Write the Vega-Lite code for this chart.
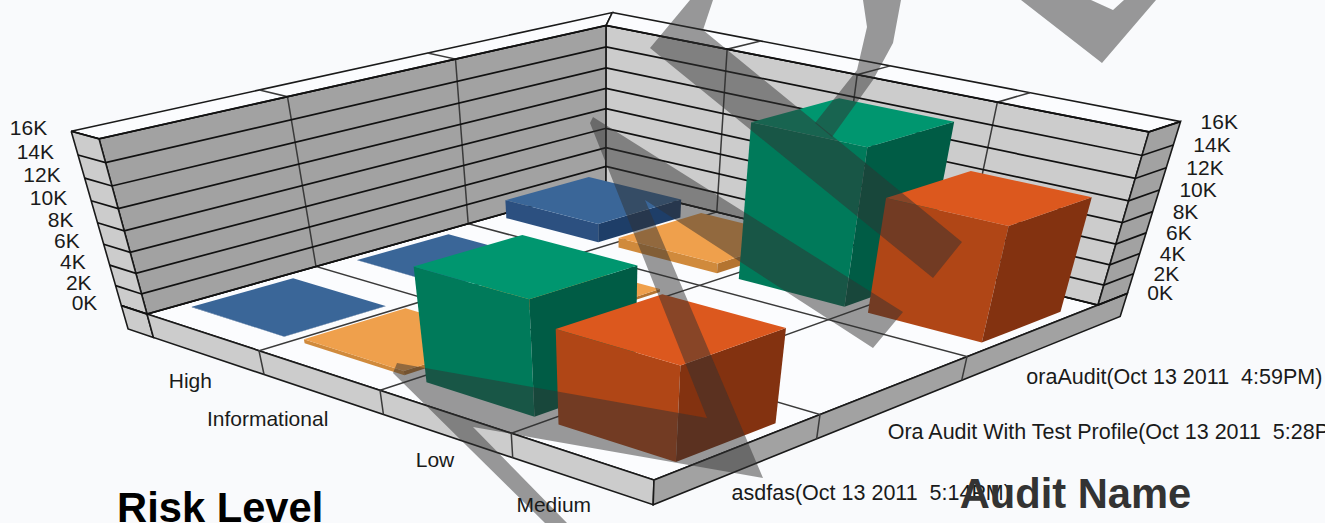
{"$schema":"https://vega.github.io/schema/vega-lite/v6.json","width":1325,"height":523,"padding":0,"autosize":{"type":"none"},"background":"#ffffff","view":{"fill":"#f9fafc","stroke":null},"config":{"text":{"font":"Liberation Sans"}},
"resolve":{"scale":{"fill":"independent"}},
"datasets":{
"bars":[
{"risk":"High","audit":"oraAudit(Oct 13 2011  4:59PM)","value":1900},
{"risk":"Informational","audit":"oraAudit(Oct 13 2011  4:59PM)","value":1000},
{"risk":"High","audit":"Ora Audit With Test Profile(Oct 13 2011  5:28PM)","value":30},
{"risk":"Low","audit":"oraAudit(Oct 13 2011  4:59PM)","value":14800},
{"risk":"Informational","audit":"Ora Audit With Test Profile(Oct 13 2011  5:28PM)","value":300},
{"risk":"High","audit":"asdfas(Oct 13 2011  5:14PM)","value":30},
{"risk":"Medium","audit":"oraAudit(Oct 13 2011  4:59PM)","value":10900},
{"risk":"Informational","audit":"asdfas(Oct 13 2011  5:14PM)","value":400},
{"risk":"Low","audit":"asdfas(Oct 13 2011  5:14PM)","value":10600},
{"risk":"Medium","audit":"asdfas(Oct 13 2011  5:14PM)","value":8700}
],
"box":[
{"poly":"floor","tone":"white","k":0,"u":0,"v":0,"z":0},{"poly":"floor","tone":"white","k":1,"u":1,"v":0,"z":0},{"poly":"floor","tone":"white","k":2,"u":1,"v":1,"z":0},{"poly":"floor","tone":"white","k":3,"u":0,"v":1,"z":0},{"poly":"floor","tone":"white","k":4,"u":0,"v":0,"z":0},
{"poly":"leftWall","tone":"dark","k":0,"u":0,"v":0,"z":0},{"poly":"leftWall","tone":"dark","k":1,"u":0,"v":1,"z":0},{"poly":"leftWall","tone":"dark","k":2,"u":0,"v":1,"z":1},{"poly":"leftWall","tone":"dark","k":3,"u":0,"v":0,"z":1},{"poly":"leftWall","tone":"dark","k":4,"u":0,"v":0,"z":0},
{"poly":"rightWall","tone":"light","k":0,"u":0,"v":1,"z":0},{"poly":"rightWall","tone":"light","k":1,"u":1,"v":1,"z":0},{"poly":"rightWall","tone":"light","k":2,"u":1,"v":1,"z":1},{"poly":"rightWall","tone":"light","k":3,"u":0,"v":1,"z":1},{"poly":"rightWall","tone":"light","k":4,"u":0,"v":1,"z":0},
{"poly":"topLeft","tone":"white","k":0,"u":-0.06,"v":0,"z":1},{"poly":"topLeft","tone":"white","k":1,"u":-0.06,"v":1.08,"z":1},{"poly":"topLeft","tone":"white","k":2,"u":0,"v":1,"z":1},{"poly":"topLeft","tone":"white","k":3,"u":0,"v":0,"z":1},{"poly":"topLeft","tone":"white","k":4,"u":-0.06,"v":0,"z":1},
{"poly":"topRight","tone":"white","k":0,"u":-0.06,"v":1.08,"z":1},{"poly":"topRight","tone":"white","k":1,"u":1,"v":1.08,"z":1},{"poly":"topRight","tone":"white","k":2,"u":1,"v":1,"z":1},{"poly":"topRight","tone":"white","k":3,"u":0,"v":1,"z":1},{"poly":"topRight","tone":"white","k":4,"u":-0.06,"v":1.08,"z":1},
{"poly":"leftEnd","tone":"light","k":0,"u":-0.06,"v":0,"z":1},{"poly":"leftEnd","tone":"light","k":1,"u":0,"v":0,"z":1},{"poly":"leftEnd","tone":"light","k":2,"u":0,"v":0,"z":0},{"poly":"leftEnd","tone":"light","k":3,"u":-0.06,"v":0,"z":0},{"poly":"leftEnd","tone":"light","k":4,"u":-0.06,"v":0,"z":1},
{"poly":"leftFoot","tone":"light","k":0,"u":-0.06,"v":0,"z":0},{"poly":"leftFoot","tone":"light","k":1,"u":0,"v":0,"z":0},{"poly":"leftFoot","tone":"light","k":2,"u":0,"v":0,"z":-0.15},{"poly":"leftFoot","tone":"light","k":3,"u":-0.06,"v":0,"z":-0.15},{"poly":"leftFoot","tone":"light","k":4,"u":-0.06,"v":0,"z":0},
{"poly":"rightEnd","tone":"dark","k":0,"u":1,"v":1,"z":1},{"poly":"rightEnd","tone":"dark","k":1,"u":1,"v":1.08,"z":1},{"poly":"rightEnd","tone":"dark","k":2,"u":1,"v":1.08,"z":0},{"poly":"rightEnd","tone":"dark","k":3,"u":1,"v":1,"z":0},{"poly":"rightEnd","tone":"dark","k":4,"u":1,"v":1,"z":1},
{"poly":"baseLeft","tone":"light","k":0,"u":0,"v":0,"z":0},{"poly":"baseLeft","tone":"light","k":1,"u":1,"v":0,"z":0},{"poly":"baseLeft","tone":"light","k":2,"u":1,"v":0,"z":-0.15},{"poly":"baseLeft","tone":"light","k":3,"u":0,"v":0,"z":-0.15},{"poly":"baseLeft","tone":"light","k":4,"u":0,"v":0,"z":0},
{"poly":"baseRight","tone":"dark","k":0,"u":1,"v":0,"z":0},{"poly":"baseRight","tone":"dark","k":1,"u":1,"v":1.08,"z":0},{"poly":"baseRight","tone":"dark","k":2,"u":1,"v":1.08,"z":-0.15},{"poly":"baseRight","tone":"dark","k":3,"u":1,"v":0,"z":-0.15},{"poly":"baseRight","tone":"dark","k":4,"u":1,"v":0,"z":0}
],
"ticks":[{"value":0,"label":"0K"},{"value":2000,"label":"2K"},{"value":4000,"label":"4K"},{"value":6000,"label":"6K"},{"value":8000,"label":"8K"},{"value":10000,"label":"10K"},{"value":12000,"label":"12K"},{"value":14000,"label":"14K"},{"value":16000,"label":"16K"}],
"dividers":[{"axis":"risk","pos":0.25},{"axis":"risk","pos":0.5},{"axis":"risk","pos":0.75},{"axis":"audit","pos":0.3333},{"axis":"audit","pos":0.6667}],
"riskLevels":[{"label":"High","i":0},{"label":"Informational","i":1},{"label":"Low","i":2},{"label":"Medium","i":3}],
"auditNames":[{"label":"asdfas(Oct 13 2011\u00a0\u00a05:14PM)","i":0},{"label":"Ora Audit With Test Profile(Oct 13 2011\u00a0\u00a05:28PM)","i":1},{"label":"oraAudit(Oct 13 2011\u00a0\u00a04:59PM)","i":2}],
"watermark":[
{"shape":"n","k":0,"px":590,"py":123},{"shape":"n","k":1,"px":593,"py":117},{"shape":"n","k":2,"px":903,"py":312},{"shape":"n","k":3,"px":873,"py":348},{"shape":"n","k":4,"px":645,"py":200},{"shape":"n","k":5,"px":763,"py":478},{"shape":"n","k":6,"px":473,"py":427},{"shape":"n","k":7,"px":567,"py":523},{"shape":"n","k":8,"px":545,"py":523},{"shape":"n","k":9,"px":393,"py":373},{"shape":"n","k":10,"px":397,"py":363},{"shape":"n","k":11,"px":707,"py":418},
{"shape":"e","k":0,"px":650,"py":48},{"shape":"e","k":1,"px":690,"py":0},{"shape":"e","k":2,"px":713,"py":0},{"shape":"e","k":3,"px":703,"py":30},{"shape":"e","k":4,"px":962,"py":242},{"shape":"e","k":5,"px":933,"py":278},
{"shape":"arc","k":0,"px":863,"py":0},{"shape":"arc","k":1,"px":901,"py":0},{"shape":"arc","k":2,"px":893,"py":43},{"shape":"arc","k":3,"px":873,"py":80},{"shape":"arc","k":4,"px":832,"py":137},{"shape":"arc","k":5,"px":815,"py":123},{"shape":"arc","k":6,"px":857,"py":70},{"shape":"arc","k":7,"px":867,"py":27},
{"shape":"v","k":0,"px":1021,"py":0},{"shape":"v","k":1,"px":1102,"py":63},{"shape":"v","k":2,"px":1156,"py":0},{"shape":"v","k":3,"px":1124,"py":0},{"shape":"v","k":4,"px":1113,"py":10},{"shape":"v","k":5,"px":1091,"py":0}
]
},
"layer":[
{"data":{"name":"box"},
"transform":[
{"calculate":"1-0.14946*datum.u+0.16537*datum.v","as":"W"},{"calculate":"(409.25*datum.u+559.21*datum.v+147)/datum.W","as":"fx"},{"calculate":"(94.26*datum.u-98.41*datum.v+314)/datum.W","as":"fy"},{"calculate":"-0.095*datum.z/(datum.W-0.095*datum.z)","as":"t"},{"calculate":"datum.fx+datum.t*(604-datum.fx)","as":"sx"},{"calculate":"datum.fy+datum.t*(1983-datum.fy)","as":"sy"}],
"mark":{"type":"line","stroke":"#1a1a1a","strokeWidth":1.6,"interpolate":"linear"},
"encoding":{"x":{"field":"sx","type":"quantitative","scale":{"domain":[0,1325]},"axis":null},"y":{"field":"sy","type":"quantitative","scale":{"domain":[523,0]},"axis":null},"detail":{"field":"poly"},"order":{"field":"k"},"fill":{"field":"tone","type":"nominal","scale":{"domain":["white","light","dark"],"range":["#fbfcfe","#cccccc","#a2a2a2"]},"legend":null}}},
{"data":{"name":"dividers"},
"transform":[
{"calculate":"[0,1,2,3,4]","as":"k"},{"flatten":["k"]},
{"calculate":"datum.axis=='risk'?datum.pos:[1,1,0,0,-0.06][datum.k]","as":"u"},
{"calculate":"datum.axis=='risk'?[0,0,1,1,1.08][datum.k]:datum.pos","as":"v"},
{"calculate":"[-0.15,0,0,1,1][datum.k]","as":"z"},
{"calculate":"1-0.14946*datum.u+0.16537*datum.v","as":"W"},{"calculate":"(409.25*datum.u+559.21*datum.v+147)/datum.W","as":"fx"},{"calculate":"(94.26*datum.u-98.41*datum.v+314)/datum.W","as":"fy"},{"calculate":"-0.095*datum.z/(datum.W-0.095*datum.z)","as":"t"},{"calculate":"datum.fx+datum.t*(604-datum.fx)","as":"sx"},{"calculate":"datum.fy+datum.t*(1983-datum.fy)","as":"sy"}],
"mark":{"type":"line","stroke":"#3a3a3a","strokeWidth":1.5},
"encoding":{"x":{"field":"sx","type":"quantitative","scale":{"domain":[0,1325]},"axis":null},"y":{"field":"sy","type":"quantitative","scale":{"domain":[523,0]},"axis":null},"detail":{"field":"pos"},"order":{"field":"k"}}},
{"data":{"name":"ticks"},
"transform":[
{"calculate":"[0,1,2,3,4]","as":"k"},{"flatten":["k"]},
{"calculate":"[-0.06,0,0,1,1][datum.k]","as":"u"},
{"calculate":"[0,0,1,1,1.08][datum.k]","as":"v"},
{"calculate":"datum.value/16000","as":"z"},
{"calculate":"1-0.14946*datum.u+0.16537*datum.v","as":"W"},{"calculate":"(409.25*datum.u+559.21*datum.v+147)/datum.W","as":"fx"},{"calculate":"(94.26*datum.u-98.41*datum.v+314)/datum.W","as":"fy"},{"calculate":"-0.095*datum.z/(datum.W-0.095*datum.z)","as":"t"},{"calculate":"datum.fx+datum.t*(604-datum.fx)","as":"sx"},{"calculate":"datum.fy+datum.t*(1983-datum.fy)","as":"sy"}],
"mark":{"type":"line","stroke":"#111111","strokeWidth":1.7},
"encoding":{"x":{"field":"sx","type":"quantitative","scale":{"domain":[0,1325]},"axis":null},"y":{"field":"sy","type":"quantitative","scale":{"domain":[523,0]},"axis":null},"detail":{"field":"value"},"order":{"field":"k"}}},
{"data":{"name":"bars"},
"transform":[
{"calculate":"indexof(['High','Informational','Low','Medium'],datum.risk)","as":"ri"},
{"calculate":"datum.audit[0]=='a'?0:(datum.audit[0]=='O'?1:2)","as":"ai"},
{"calculate":"[0,1,2,3,4,5,6,7,8,9,10,11]","as":"k"},{"flatten":["k"]},
{"calculate":"floor(datum.k/4)","as":"face"},
{"calculate":"datum.risk+'-'+datum.audit+'-'+datum.face","as":"poly"},
{"calculate":"datum.risk+'|'+datum.face","as":"shade"},
{"calculate":"(datum.ri+0.5)/4+(2*[0,1,1,0,1,1,1,1,0,1,1,0][datum.k]-1)*0.103","as":"u"},
{"calculate":"(datum.ai+0.5)/3+(2*[0,0,0,0,0,1,1,0,0,0,1,1][datum.k]-1)*0.1","as":"v"},
{"calculate":"[0,0,1,1,0,0,1,1,1,1,1,1][datum.k]*datum.value/16000","as":"z"},
{"calculate":"1-0.14946*datum.u+0.16537*datum.v","as":"W"},{"calculate":"(409.25*datum.u+559.21*datum.v+147)/datum.W","as":"fx"},{"calculate":"(94.26*datum.u-98.41*datum.v+314)/datum.W","as":"fy"},{"calculate":"-0.095*datum.z/(datum.W-0.095*datum.z)","as":"t"},{"calculate":"datum.fx+datum.t*(604-datum.fx)","as":"sx"},{"calculate":"datum.fy+datum.t*(1983-datum.fy)","as":"sy"}],
"mark":{"type":"line","stroke":"transparent","strokeWidth":0},
"encoding":{"x":{"field":"sx","type":"quantitative","scale":{"domain":[0,1325]},"axis":null},"y":{"field":"sy","type":"quantitative","scale":{"domain":[523,0]},"axis":null},"detail":{"field":"poly"},"order":{"field":"k"},"fill":{"field":"shade","type":"nominal","scale":{"domain":["High|0","High|1","High|2","Informational|0","Informational|1","Informational|2","Low|0","Low|1","Low|2","Medium|0","Medium|1","Medium|2"],"range":["#2c5080","#1e3e68","#3a6698","#d08a3c","#b47430","#efa04c","#007a5a","#005c45","#00966f","#b04616","#833210","#dc581e"]},"legend":null}}},
{"data":{"name":"watermark"},
"mark":{"type":"line","stroke":"transparent","strokeWidth":0,"fill":"#303030","fillOpacity":0.49},
"encoding":{"x":{"field":"px","type":"quantitative","scale":{"domain":[0,1325]},"axis":null},"y":{"field":"py","type":"quantitative","scale":{"domain":[523,0]},"axis":null},"detail":{"field":"shape"},"order":{"field":"k"}}},
{"data":{"name":"ticks"},
"transform":[{"calculate":"-0.06","as":"u"},{"calculate":"0","as":"v"},{"calculate":"datum.value/16000","as":"z"},
{"calculate":"1-0.14946*datum.u+0.16537*datum.v","as":"W"},{"calculate":"(409.25*datum.u+559.21*datum.v+147)/datum.W","as":"fx"},{"calculate":"(94.26*datum.u-98.41*datum.v+314)/datum.W","as":"fy"},{"calculate":"-0.095*datum.z/(datum.W-0.095*datum.z)","as":"t"},{"calculate":"datum.fx+datum.t*(604-datum.fx)","as":"sx"},{"calculate":"datum.fy+datum.t*(1983-datum.fy)","as":"sy"}],
"mark":{"type":"text","align":"right","baseline":"middle","dx":-24,"dy":-2,"fontSize":21,"color":"#1a1a1a"},
"encoding":{"x":{"field":"sx","type":"quantitative","scale":{"domain":[0,1325]},"axis":null},"y":{"field":"sy","type":"quantitative","scale":{"domain":[523,0]},"axis":null},"text":{"field":"label"}}},
{"data":{"name":"ticks"},
"transform":[{"calculate":"1","as":"u"},{"calculate":"1.08","as":"v"},{"calculate":"datum.value/16000","as":"z"},
{"calculate":"1-0.14946*datum.u+0.16537*datum.v","as":"W"},{"calculate":"(409.25*datum.u+559.21*datum.v+147)/datum.W","as":"fx"},{"calculate":"(94.26*datum.u-98.41*datum.v+314)/datum.W","as":"fy"},{"calculate":"-0.095*datum.z/(datum.W-0.095*datum.z)","as":"t"},{"calculate":"datum.fx+datum.t*(604-datum.fx)","as":"sx"},{"calculate":"datum.fy+datum.t*(1983-datum.fy)","as":"sy"}],
"mark":{"type":"text","align":"left","baseline":"middle","dx":20,"dy":1,"fontSize":21,"color":"#1a1a1a"},
"encoding":{"x":{"field":"sx","type":"quantitative","scale":{"domain":[0,1325]},"axis":null},"y":{"field":"sy","type":"quantitative","scale":{"domain":[523,0]},"axis":null},"text":{"field":"label"}}},
{"data":{"name":"riskLevels"},
"transform":[{"calculate":"(datum.i+0.5)/4","as":"u"},{"calculate":"1-0.14946*datum.u","as":"W"},{"calculate":"(409.25*datum.u+147)/datum.W","as":"sx"},{"calculate":"(94.26*datum.u+314)/datum.W","as":"sy"}],
"mark":{"type":"text","align":"right","baseline":"middle","dx":10,"dy":50,"fontSize":21,"color":"#1a1a1a","clip":true},
"encoding":{"x":{"field":"sx","type":"quantitative","scale":{"domain":[0,1325]},"axis":null},"y":{"field":"sy","type":"quantitative","scale":{"domain":[523,0]},"axis":null},"text":{"field":"label"}}},
{"data":{"name":"auditNames"},
"transform":[{"calculate":"(datum.i+0.5)/3","as":"v"},{"calculate":"0.85054+0.16537*datum.v","as":"W"},{"calculate":"(409.25+559.21*datum.v+147)/datum.W","as":"sx"},{"calculate":"(94.26-98.41*datum.v+314)/datum.W","as":"sy"}],
"mark":{"type":"text","align":"left","baseline":"middle","dx":-8,"dy":48,"fontSize":21.5,"color":"#1a1a1a","clip":true},
"encoding":{"x":{"field":"sx","type":"quantitative","scale":{"domain":[0,1325]},"axis":null},"y":{"field":"sy","type":"quantitative","scale":{"domain":[523,0]},"axis":null},"text":{"field":"label"}}},
{"data":{"values":[{"title":"Risk Level","u":0.5,"v":0,"ox":-263,"oy":132,"tone":"#000000"},{"title":"Audit Name","u":1,"v":0.5,"ox":64,"oy":123,"tone":"#333333"}]},
"transform":[{"calculate":"1-0.14946*datum.u+0.16537*datum.v","as":"W"},{"calculate":"(409.25*datum.u+559.21*datum.v+147)/datum.W+datum.ox","as":"sx"},{"calculate":"(94.26*datum.u-98.41*datum.v+314)/datum.W+datum.oy","as":"sy"}],
"mark":{"type":"text","align":"left","baseline":"alphabetic","fontSize":41.7,"fontWeight":"bold","clip":true},
"encoding":{"x":{"field":"sx","type":"quantitative","scale":{"domain":[0,1325]},"axis":null},"y":{"field":"sy","type":"quantitative","scale":{"domain":[523,0]},"axis":null},"text":{"field":"title"},"color":{"field":"tone","type":"nominal","scale":null}}}
]}
